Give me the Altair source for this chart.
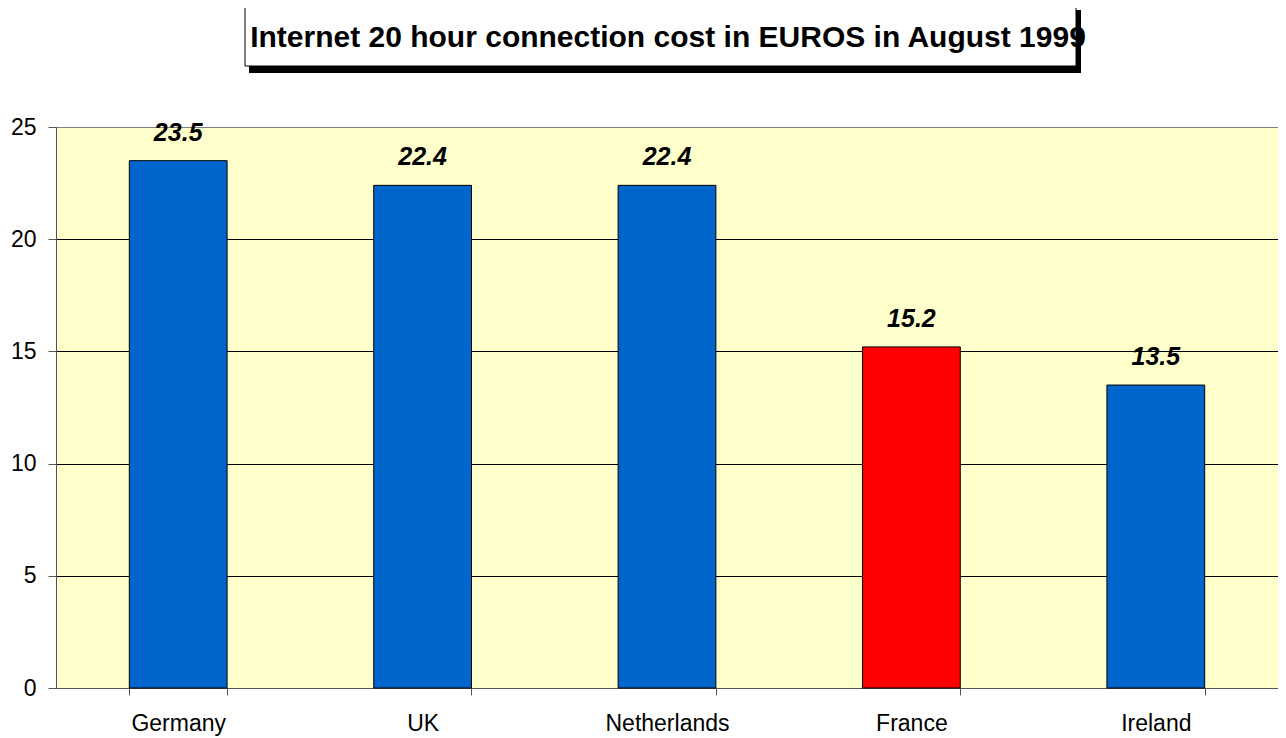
import altair as alt
import pandas as pd

countries = ["Germany", "UK", "Netherlands", "France", "Ireland"]
costs = [23.5, 22.4, 22.4, 15.2, 13.5]
highlight = ["other", "other", "other", "France", "other"]
title_text = "Internet 20 hour connection cost in EUROS in August 1999"

df = pd.DataFrame({"country": countries, "cost": costs, "group": highlight})
one = pd.DataFrame({"t": [title_text]})

FONT = "Liberation Sans"

x = alt.X("country:N", sort=countries, title=None,
          scale=alt.Scale(paddingInner=0.6, paddingOuter=0.3),
          axis=alt.Axis(labelAngle=0, labelFontSize=23, labelFont=FONT, labelColor="#000",
                        tickBand="extent", tickSize=7, tickColor="#555", domainColor="#555",
                        labelPadding=17, grid=False))
y = alt.Y("cost:Q", title=None,
          scale=alt.Scale(domain=[0, 25], nice=False),
          axis=alt.Axis(values=[0, 5, 10, 15, 20, 25], labelFontSize=23, labelFont=FONT,
                        labelColor="#000", tickSize=8, tickColor="#555", domainColor="#555",
                        labelPadding=12, grid=True,
                        gridColor={"condition": {"test": "datum.value == 25 || datum.value == 0",
                                                 "value": "#808080"}, "value": "#000"},
                        gridWidth=1))

bars = alt.Chart(df).mark_bar(stroke="#000", strokeWidth=1).encode(
    x=x, y=y,
    color=alt.Color("group:N", scale=alt.Scale(domain=["other", "France"],
                                               range=["#0066CC", "#FF0000"]), legend=None),
)

labels = alt.Chart(df).mark_text(fontSize=25, fontWeight="bold", fontStyle="italic",
                                 font=FONT, baseline="alphabetic", dy=-20, color="#000").encode(
    x=alt.X("country:N", sort=countries), y="cost:Q", text=alt.Text("cost:Q", format=".1f"))

shadow = alt.Chart(one).mark_rect(color="#000").encode(
    x=alt.value(193), x2=alt.value(1025), y=alt.value(-117), y2=alt.value(-54))
box = alt.Chart(one).mark_rect(fill="#fff", stroke="#000", strokeWidth=1).encode(
    x=alt.value(189), x2=alt.value(1020), y=alt.value(-121), y2=alt.value(-61))
title = alt.Chart(one).mark_text(fontSize=30, fontWeight="bold", font=FONT, align="center",
                                 baseline="alphabetic", color="#000").encode(
    x=alt.value(612), y=alt.value(-80), text="t:N")

chart = alt.layer(bars, labels, shadow, box, title).properties(
    width=1222, height=561,
    autosize=alt.AutoSizeParams(type="none"),
    padding={"left": 48, "top": 119, "right": 0, "bottom": 50},
    background="#ffffff",
).configure_view(fill="#FFFFCC", stroke="#808080", strokeWidth=1)

chart.save("out.html", embed_options={"renderer": "svg", "actions": False})
